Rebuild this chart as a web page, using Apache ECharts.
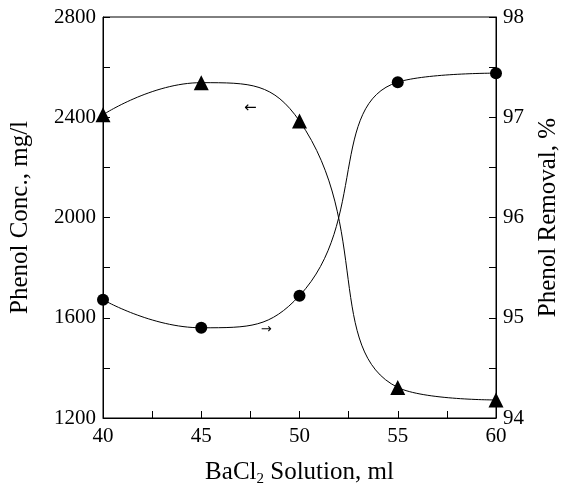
<!DOCTYPE html>
<html><head><meta charset="utf-8">
<script src="https://cdn.jsdelivr.net/npm/echarts@6/dist/echarts.min.js"></script>
<style>html,body{margin:0;padding:0;background:#fff}#c{width:569px;height:492px}</style>
</head><body><div id="c"></div>
<script>
const bacl = [40, 45, 50, 55, 60];
const phenolConc = [2410, 2538, 2385, 1322, 1272];
const phenolRemoval = [95.18, 94.9, 95.22, 97.35, 97.44];
const xTicks = [40, 45, 50, 55, 60];
const leftTicks = [1200, 1600, 2000, 2400, 2800];
const rightTicks = [94, 95, 96, 97, 98];

const font = 'Liberation Serif';
const chart = echarts.init(document.getElementById('c'));
const axisCommon = {
  axisLine: {show: true, onZero: false, lineStyle: {color: '#000', width: 1}},
  axisTick: {show: true, inside: true, length: 7, lineStyle: {color: '#000'}},
  minorTick: {show: true, splitNumber: 2, length: 7, lineStyle: {color: '#000'}},
  splitLine: {show: false},
  axisLabel: {color: '#000', fontFamily: font, fontSize: 21, margin: 7, formatter: v => String(v)},
  nameTextStyle: {color: '#000', fontFamily: font, fontSize: 25}
};
chart.setOption({
  animation: false,
  backgroundColor: '#fff',
  grid: {left: 102, right: 61, top: 17, bottom: 74, show: true, borderColor: '#000', borderWidth: 1},
  xAxis: Object.assign({}, axisCommon, {
    type: 'value', min: xTicks[0], max: xTicks[xTicks.length-1], interval: 5,
    name: '{a|BaCl}{s|2}{a| Solution, ml}', nameLocation: 'middle', nameGap: 40,
    nameTextStyle: {rich: {a: {fontFamily: font, fontSize: 25, color: '#000'}, s: {fontFamily: font, fontSize: 15, color: '#000', padding: [14, 0, 0, 0]}}},
    axisLabel: {color: '#000', fontFamily: font, fontSize: 21, margin: 8}
  }),
  yAxis: [
    Object.assign({}, axisCommon, {
      type: 'value', min: leftTicks[0], max: leftTicks[leftTicks.length-1], interval: 400,
      name: 'Phenol Conc., mg/l', nameLocation: 'middle', nameGap: 70, position: 'left'
    }),
    Object.assign({}, axisCommon, {
      type: 'value', min: rightTicks[0], max: rightTicks[rightTicks.length-1], interval: 1,
      name: 'Phenol Removal, %', nameLocation: 'middle', nameGap: 40, position: 'right', nameRotate: 90
    })
  ],
  series: [
    {
      type: 'line', yAxisIndex: 0, smooth: 0.5,
      data: bacl.map((x, i) => [x, phenolConc[i]]),
      symbol: 'triangle', symbolSize: 15,
      itemStyle: {color: '#000'}, lineStyle: {color: '#000', width: 1},
      markPoint: {
        symbol: 'circle', symbolSize: 0,
        data: [{coord: [47.5, 2436], label: {show: true, formatter: '←', color: '#000', fontSize: 15, fontFamily: 'DejaVu Sans', position: 'inside'}}]
      }
    },
    {
      type: 'line', yAxisIndex: 1, smooth: 0.5,
      data: bacl.map((x, i) => [x, phenolRemoval[i]]),
      symbol: 'circle', symbolSize: 12,
      itemStyle: {color: '#000'}, lineStyle: {color: '#000', width: 1},
      markPoint: {
        symbol: 'circle', symbolSize: 0,
        data: [{coord: [48.3, 94.88], label: {show: true, formatter: '→', color: '#000', fontSize: 13, fontFamily: 'DejaVu Sans', position: 'inside'}}]
      }
    }
  ]
});
</script></body></html>
